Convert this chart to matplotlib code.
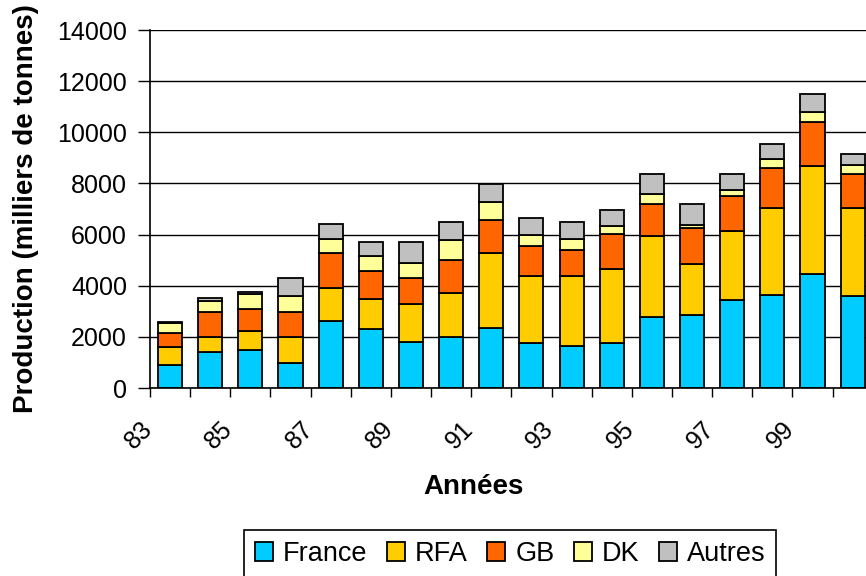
import numpy as np
import matplotlib
matplotlib.use("Agg")
import matplotlib.pyplot as plt
from matplotlib.transforms import ScaledTranslation

plt.rcParams['font.family'] = ['Liberation Sans', 'DejaVu Sans']

# production per year, thousands of tonnes
annees = ['83', '84', '85', '86', '87', '88', '89', '90', '91',
          '92', '93', '94', '95', '96', '97', '98', '99', '00']
france = [900, 1395, 1475, 990, 2630, 2320, 1790, 2005, 2330,
          1775, 1640, 1775, 2790, 2870, 3430, 3650, 4445, 3585]
rfa = [715, 610, 765, 1015, 1270, 1170, 1480, 1725, 2955,
       2595, 2730, 2895, 3155, 1980, 2720, 3380, 4235, 3445]
gb = [545, 955, 860, 955, 1380, 1100, 1020, 1260, 1280,
      1170, 1015, 1350, 1240, 1395, 1360, 1570, 1735, 1330]
dk = [370, 440, 560, 640, 560, 560, 610, 785, 690,
      460, 445, 300, 390, 130, 220, 370, 375, 375]
autres = [60, 110, 90, 700, 570, 550, 800, 715, 730,
          660, 650, 640, 785, 810, 630, 580, 710, 415]

series = [('France', france, '#00CCFF'),
          ('RFA', rfa, '#FFCC00'),
          ('GB', gb, '#FF6600'),
          ('DK', dk, '#FFFF99'),
          ('Autres', autres, '#C0C0C0')]

fig = plt.figure(figsize=(8.66, 5.76), dpi=100)
ax = fig.add_axes([150 / 866, 1 - 388 / 576, 722.7 / 866, 358 / 576])

x = np.arange(len(annees))
bottom = np.zeros(len(annees))
handles = []
for nom, vals, col in series:
    b = ax.bar(x, vals, 0.6, bottom=bottom, color=col, edgecolor='black',
               linewidth=1.3, label=nom, zorder=3)
    handles.append(b)
    bottom += np.array(vals)

ax.set_xlim(-0.5, len(annees) - 0.5)
ax.set_ylim(0, 14000)
ax.set_yticks(np.arange(0, 14001, 2000))
ax.yaxis.grid(True, color='black', linewidth=1.0, zorder=0)
ax.tick_params(axis='y', direction='out', length=8.5, width=1.0,
               pad=8, labelsize=18)

# tick marks between categories, labels on every other bar
ax.set_xticks(np.arange(-0.5, len(annees), 1.0))
ax.set_xticklabels([])
ax.tick_params(axis='x', which='major', direction='out', length=6.5, width=1.0)
ax.set_xticks(x[::2], minor=True)
ax.set_xticklabels(annees[::2], minor=True, rotation=45, ha='right',
                   va='top', fontsize=18)
ax.tick_params(axis='x', which='minor', length=0, pad=21)
off = ScaledTranslation(-0.13, 0, fig.dpi_scale_trans)
for lab in ax.xaxis.get_minorticklabels():
    lab.set_transform(lab.get_transform() + off)

for s in ['top', 'right']:
    ax.spines[s].set_visible(False)
for s in ['left', 'bottom']:
    ax.spines[s].set_linewidth(1.2)
    ax.spines[s].set_zorder(4)

fig.text(26 / 866, 1 - 209 / 576, 'Production (milliers de tonnes)',
         rotation=90, ha='center', va='center', fontsize=20, fontweight='bold')
fig.text(473 / 866, 1 - 487 / 576, 'Années', ha='center', va='center',
         fontsize=20, fontweight='bold')

leg = fig.legend(handles=handles, loc='upper left',
                 bbox_to_anchor=(244 / 866, 1 - 530 / 576),
                 bbox_transform=fig.transFigure, borderaxespad=0,
                 ncol=5, fontsize=19.5, handlelength=0.68, handleheight=0.68,
                 handletextpad=0.36, columnspacing=0.71, borderpad=0.4,
                 fancybox=False, framealpha=1)
leg.get_frame().set_edgecolor('black')
leg.get_frame().set_linewidth(1.2)

fig.savefig('out.png', dpi=100)
